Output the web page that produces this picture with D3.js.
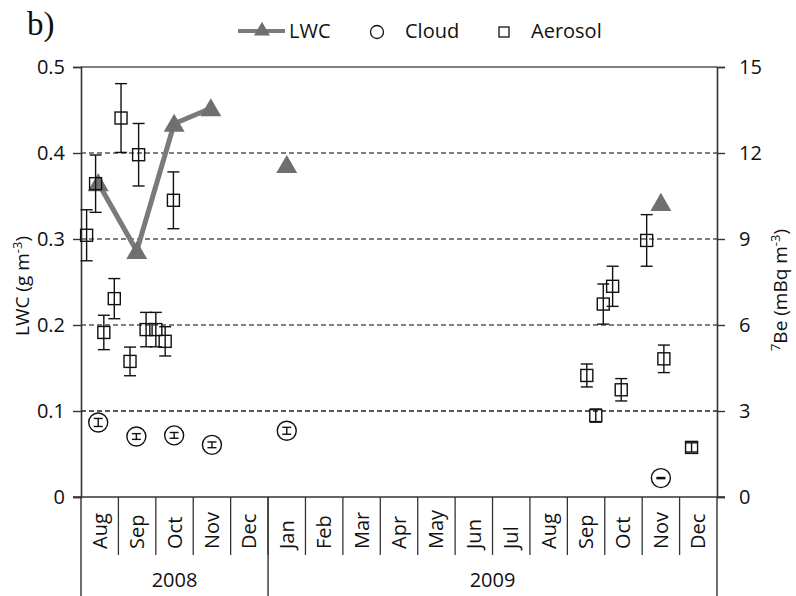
<!DOCTYPE html>
<html>
<head>
<meta charset="utf-8">
<script src="https://cdn.jsdelivr.net/npm/d3@7"></script>
<style>
  html, body { margin: 0; padding: 0; background: #fff; }
  svg { display: block; }
  text { font-family: "Open Sans", "DejaVu Sans", sans-serif; fill: #111; }
</style>
</head>
<body>
<svg id="chart" width="796" height="596"></svg>
<script>
// ---- data ----
const months = ["Aug","Sep","Oct","Nov","Dec","Jan","Feb","Mar","Apr","May","Jun","Jul","Aug","Sep","Oct","Nov","Dec"];
const yearLabels = ["2008", "2009"];
const yearSpans = [5, 12];

const leftTicks = [0, 0.1, 0.2, 0.3, 0.4, 0.5];
const leftTickLabels = ["0", "0.1", "0.2", "0.3", "0.4", "0.5"];
const rightTicks = [0, 3, 6, 9, 12, 15];

// x positions in month units from start of Aug 2008
const lwcX = [0.46, 1.49, 2.49, 3.47, 5.50, 15.50];
const lwcVal = [0.365, 0.286, 0.434, 0.452, 0.386, 0.342];
const lwcLineCount = 4; // first four points joined by a line

const cloudX = [0.46, 1.48, 2.49, 3.50, 5.50, 15.50];
const cloudVal = [2.60, 2.11, 2.15, 1.82, 2.31, 0.66];
const cloudErr = [0.14, 0.10, 0.10, 0.10, 0.12, 0.02];

const aeroX = [0.15, 0.39, 0.61, 0.89, 1.07, 1.31, 1.54, 1.74, 2.00, 2.25, 2.47,
               13.52, 13.76, 13.96, 14.21, 14.44, 15.12, 15.58, 16.32];
const aeroVal = [9.13, 10.93, 5.74, 6.92, 13.22, 4.73, 11.94, 5.84, 5.84, 5.43, 10.35,
                 4.24, 2.84, 6.73, 7.35, 3.74, 8.95, 4.82, 1.73];
const aeroErr = [0.89, 1.00, 0.60, 0.70, 1.20, 0.50, 1.09, 0.60, 0.60, 0.51, 0.99,
                 0.40, 0.23, 0.70, 0.70, 0.39, 0.90, 0.48, 0.16];

// ---- layout ----
const svg = d3.select("#chart");
const L = 81, R = 717, T = 67, B = 497;
const x = d3.scaleLinear().domain([0, months.length]).range([L, R]);
const yL = d3.scaleLinear().domain([0, 0.5]).range([B, T]);
const yR = d3.scaleLinear().domain([0, 15]).range([B, T]);

// gridlines
svg.append("g").selectAll("line").data(leftTicks.filter(d => d > 0 && d < 0.5)).join("line")
  .attr("x1", L).attr("x2", R).attr("y1", d => yL(d)).attr("y2", d => yL(d))
  .attr("stroke", d => d === 0.1 ? "#222" : "#555").attr("stroke-width", 1.4)
  .attr("stroke-dasharray", "5,3");
svg.append("line").attr("x1", L).attr("x2", R).attr("y1", yL(0.5)).attr("y2", yL(0.5))
  .attr("stroke", "#555").attr("stroke-width", 1.4);

// left axis
const axL = svg.append("g").attr("transform", `translate(${L},0)`)
  .call(d3.axisLeft(yL).tickValues(leftTicks).tickFormat((d, i) => leftTickLabels[i]).tickSize(8).tickPadding(8));
axL.select(".domain").attr("stroke", "#333").attr("stroke-width", 1.6);
axL.selectAll(".tick line").attr("stroke", "#333").attr("stroke-width", 1.4);
axL.selectAll(".tick text").style("font-size", "20px").attr("fill", "#111");

// right axis
const axR = svg.append("g").attr("transform", `translate(${R},0)`)
  .call(d3.axisRight(yR).tickValues(rightTicks).tickSize(8).tickPadding(14));
axR.select(".domain").attr("stroke", "#333").attr("stroke-width", 1.6);
axR.selectAll(".tick line").attr("stroke", "#333").attr("stroke-width", 1.4);
axR.selectAll(".tick text").style("font-size", "20px").attr("fill", "#111");

// bottom axis line
svg.append("line").attr("x1", L - 8).attr("x2", R + 8).attr("y1", B).attr("y2", B)
  .attr("stroke", "#333").attr("stroke-width", 1.6);

// month dividers and labels
const monthG = svg.append("g");
monthG.selectAll("line").data(d3.range(1, months.length)).join("line")
  .attr("x1", d => x(d)).attr("x2", d => x(d)).attr("y1", B).attr("y2", 555)
  .attr("stroke", "#333").attr("stroke-width", 1.3);
monthG.selectAll("text").data(months).join("text")
  .attr("transform", (d, i) => `translate(${x(i + 0.5) + 7},549) rotate(-90)`)
  .style("font-size", "20px").attr("text-anchor", "start").text(d => d);

// year dividers and labels
const yearStarts = yearSpans.map((s, i) => d3.sum(yearSpans.slice(0, i)));
const yearBounds = yearStarts.concat([months.length]);
svg.append("g").selectAll("line").data(yearBounds).join("line")
  .attr("x1", d => x(d)).attr("x2", d => x(d)).attr("y1", B).attr("y2", 596)
  .attr("stroke", "#333").attr("stroke-width", 1.4);
svg.append("g").selectAll("text").data(yearLabels).join("text")
  .attr("x", (d, i) => x(yearStarts[i] + yearSpans[i] / 2)).attr("y", 587)
  .attr("text-anchor", "middle").style("font-size", "20px").text(d => d);

// LWC line + triangles
const lwcPts = lwcX.map((v, i) => [x(v), yL(lwcVal[i])]);
svg.append("path").attr("d", d3.line()(lwcPts.slice(0, lwcLineCount)))
  .attr("fill", "none").attr("stroke", "#7a7a7a").attr("stroke-width", 5).attr("stroke-linejoin", "round");
const tri = d3.symbol().type(d3.symbolTriangle).size(190);
svg.append("g").selectAll("path").data(lwcPts).join("path")
  .attr("transform", d => `translate(${d[0]},${d[1] + 2})`).attr("d", tri).attr("fill", "#6f6f6f");

// aerosol error bars + squares
const aeroG = svg.append("g");
aeroX.forEach((xv, i) => {
  const cx = x(xv), top = yR(aeroVal[i] + aeroErr[i]), bot = yR(aeroVal[i] - aeroErr[i]);
  const g = aeroG.append("g").attr("stroke", "#111").attr("stroke-width", 1.4).attr("fill", "none");
  g.append("line").attr("x1", cx).attr("x2", cx).attr("y1", top).attr("y2", bot);
  g.append("line").attr("x1", cx - 6).attr("x2", cx + 6).attr("y1", top).attr("y2", top);
  g.append("line").attr("x1", cx - 6).attr("x2", cx + 6).attr("y1", bot).attr("y2", bot);
  g.append("rect").attr("x", cx - 6).attr("y", yR(aeroVal[i]) - 6).attr("width", 12).attr("height", 12);
});

// cloud circles with small error bars
const cloudG = svg.append("g");
cloudX.forEach((xv, i) => {
  const cx = x(xv), cy = yR(cloudVal[i]), top = yR(cloudVal[i] + cloudErr[i]), bot = yR(cloudVal[i] - cloudErr[i]);
  const g = cloudG.append("g").attr("stroke", "#111").attr("stroke-width", 1.4).attr("fill", "none");
  g.append("circle").attr("cx", cx).attr("cy", cy).attr("r", 9.5);
  g.append("line").attr("x1", cx).attr("x2", cx).attr("y1", top).attr("y2", bot);
  g.append("line").attr("x1", cx - 4.5).attr("x2", cx + 4.5).attr("y1", top).attr("y2", top);
  g.append("line").attr("x1", cx - 4.5).attr("x2", cx + 4.5).attr("y1", bot).attr("y2", bot);
});

// axis titles
const lt = svg.append("text").attr("transform", "translate(29,286) rotate(-90)")
  .attr("text-anchor", "middle").style("font-size", "19px");
lt.append("tspan").text("LWC (g m");
lt.append("tspan").attr("dy", -7).style("font-size", "13px").text("-3");
lt.append("tspan").attr("dy", 7).text(")");

const rt = svg.append("text").attr("transform", "translate(787,290) rotate(-90)")
  .attr("text-anchor", "middle").style("font-size", "19px");
rt.append("tspan").attr("dy", -7).style("font-size", "13px").text("7");
rt.append("tspan").attr("dy", 7).text("Be (mBq m");
rt.append("tspan").attr("dy", -7).style("font-size", "13px").text("-3");
rt.append("tspan").attr("dy", 7).text(")");

// panel label
svg.append("text").attr("x", 27).attr("y", 35)
  .style("font-family", "'Liberation Serif', 'Times New Roman', serif")
  .style("font-size", "33px").text("b)");

// legend
const lg = svg.append("g");
lg.append("line").attr("x1", 238).attr("x2", 285).attr("y1", 31).attr("y2", 31)
  .attr("stroke", "#7a7a7a").attr("stroke-width", 4);
lg.append("path").attr("transform", "translate(262,31)").attr("d", d3.symbol().type(d3.symbolTriangle).size(110)).attr("fill", "#6f6f6f");
lg.append("text").attr("x", 289).attr("y", 38).style("font-size", "20px").text("LWC");
lg.append("circle").attr("cx", 377).attr("cy", 32).attr("r", 6.5).attr("fill", "none").attr("stroke", "#111").attr("stroke-width", 1.3);
lg.append("text").attr("x", 405).attr("y", 38).style("font-size", "20px").text("Cloud");
lg.append("rect").attr("x", 499).attr("y", 27).attr("width", 10).attr("height", 10).attr("fill", "none").attr("stroke", "#111").attr("stroke-width", 1.3);
lg.append("text").attr("x", 531).attr("y", 38).style("font-size", "20px").text("Aerosol");
</script>
</body>
</html>
